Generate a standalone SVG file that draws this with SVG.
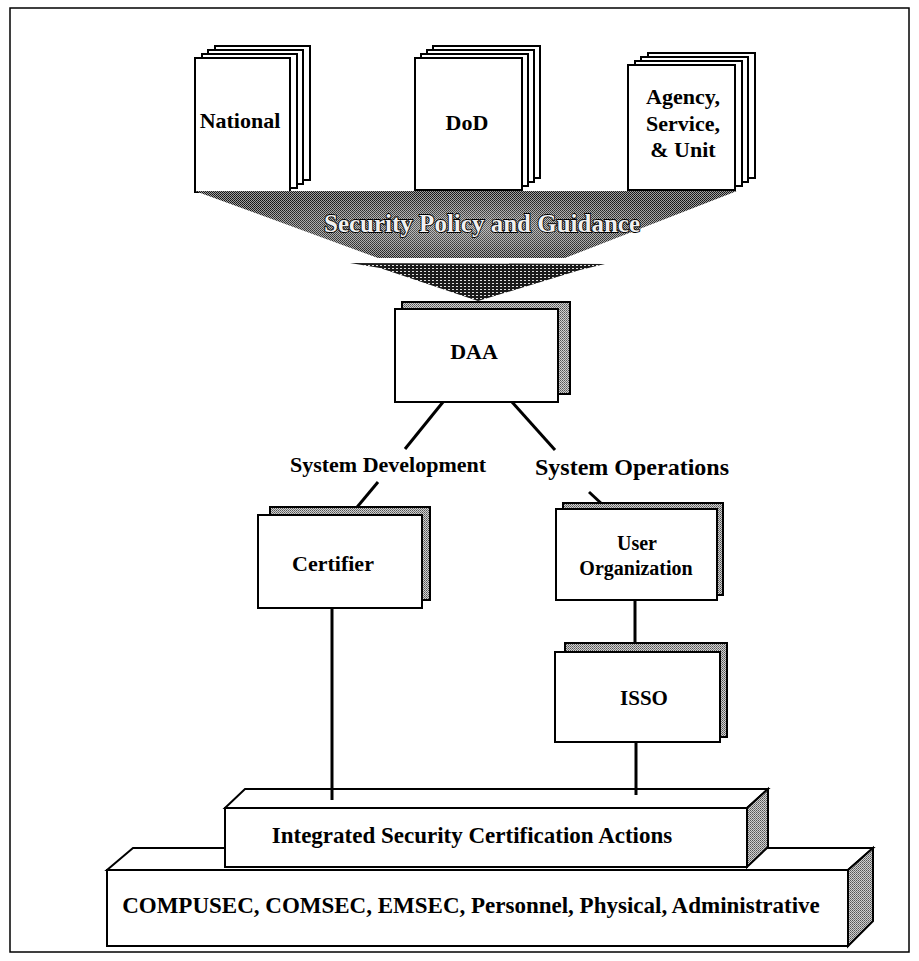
<svg xmlns="http://www.w3.org/2000/svg" width="919" height="961" viewBox="0 0 919 961">
<style>
.t{font-family:"Liberation Serif","Times New Roman",serif;font-weight:bold;fill:#000;text-anchor:middle}
.pg{fill:#fff;stroke:#000;stroke-width:2}
.sh{fill:url(#stip);stroke:#000;stroke-width:2}
.ln{stroke:#000;stroke-width:3;fill:none;stroke-linecap:butt}
</style>
<defs>
<pattern id="stip" width="2" height="2" patternUnits="userSpaceOnUse">
<rect width="2" height="2" fill="#d0d0d0"/>
<rect width="1" height="1" fill="#555"/>
<rect x="1" y="1" width="1" height="1" fill="#777"/>
</pattern>
<pattern id="half" width="2" height="2" patternUnits="userSpaceOnUse">
<rect width="2" height="2" fill="#a0a0a0"/>
<rect width="1" height="1" fill="#111"/>
<rect x="1" y="1" width="1" height="1" fill="#222"/>
</pattern>
<pattern id="stripe" width="4" height="3" patternUnits="userSpaceOnUse">
<rect width="4" height="3" fill="#1a1a1a"/>
<rect x="0" y="1" width="2" height="1" fill="#e0e0e0"/>
</pattern>
<radialGradient id="glow" cx="0.5" cy="0.55" r="0.5">
<stop offset="0" stop-color="#fff" stop-opacity="0.35"/>
<stop offset="1" stop-color="#fff" stop-opacity="0"/>
</radialGradient>
</defs>
<rect width="919" height="961" fill="#fff"/>
<rect x="10" y="8" width="899" height="944" fill="none" stroke="#000" stroke-width="1.5"/>

<g id="book-national">
<rect class="pg" x="215" y="46" width="95" height="134"/>
<rect class="pg" x="208" y="50" width="95" height="134"/>
<rect class="pg" x="202" y="54" width="95" height="134"/>
<rect class="pg" x="195" y="58" width="95" height="134"/>
<text class="t" x="240" y="128" font-size="22">National</text>
</g>
<g id="book-dod">
<rect class="pg" x="433" y="46" width="107" height="132"/>
<rect class="pg" x="427" y="50" width="107" height="132"/>
<rect class="pg" x="421" y="54" width="107" height="132"/>
<rect class="pg" x="415" y="58" width="107" height="132"/>
<text class="t" x="467" y="130" font-size="22">DoD</text>
</g>
<g id="book-agency">
<rect class="pg" x="648" y="53" width="107" height="125"/>
<rect class="pg" x="641" y="57" width="107" height="125"/>
<rect class="pg" x="635" y="61" width="107" height="125"/>
<rect class="pg" x="628" y="65" width="107" height="125"/>
<text class="t" x="683" y="104" font-size="22">Agency,</text>
<text class="t" x="683" y="131" font-size="22">Service,</text>
<text class="t" x="683" y="157" font-size="22">&amp; Unit</text>
</g>

<g id="funnel">
<polygon points="195,191 737,191 565,258 378,258" fill="url(#half)"/>
<polygon points="195,191 737,191 565,258 378,258" fill="url(#glow)"/>
<polygon points="350,263 605,264 580,270 478,301 380,268" fill="url(#stripe)"/>
<text class="t" x="482" y="232" font-size="25" style="fill:#f0f0f0" stroke="#000" stroke-width="1.8" paint-order="stroke">Security Policy and Guidance</text>
</g>

<g id="connectors">
<line class="ln" x1="443" y1="402" x2="405" y2="449"/>
<line class="ln" x1="512" y1="402" x2="555" y2="450"/>
<line class="ln" x1="378" y1="482" x2="353" y2="512"/>
<line class="ln" x1="589" y1="492" x2="603" y2="505"/>
<line class="ln" x1="332" y1="608" x2="332" y2="800"/>
<line class="ln" x1="635" y1="600" x2="635" y2="645"/>
<line class="ln" x1="636" y1="742" x2="636" y2="795"/>
<text class="t" x="388" y="472" font-size="22">System Development</text>
<text class="t" x="632" y="475" font-size="24">System Operations</text>
</g>

<g id="daa">
<rect class="sh" x="402" y="302" width="168" height="92"/>
<rect class="pg" x="395" y="309" width="163" height="93"/>
<text class="t" x="474" y="359" font-size="22">DAA</text>
</g>

<g id="certifier">
<rect class="sh" x="270" y="507" width="160" height="93"/>
<rect class="pg" x="258" y="515" width="164" height="93"/>
<text class="t" x="333" y="571" font-size="22">Certifier</text>
</g>

<g id="user-organization">
<rect class="sh" x="563" y="503" width="160" height="92"/>
<rect class="pg" x="556" y="509" width="161" height="91"/>
<text class="t" x="637" y="550" font-size="20">User</text>
<text class="t" x="636" y="575" font-size="20">Organization</text>
</g>

<g id="isso">
<rect class="sh" x="565" y="643" width="162" height="94"/>
<rect class="pg" x="555" y="652" width="165" height="90"/>
<text class="t" x="644" y="705" font-size="21">ISSO</text>
</g>

<g id="base">
<polygon class="pg" points="107,870 133,848 873,848 848,870"/>
<polygon class="sh" points="848,870 873,848 873,921 848,946"/>
<rect class="pg" x="107" y="870" width="741" height="76"/>
<text class="t" x="471" y="913" font-size="23">COMPUSEC, COMSEC, EMSEC, Personnel, Physical, Administrative</text>
</g>

<g id="integrated">
<polygon class="pg" points="225,808 245,789 768,789 747,808"/>
<polygon class="sh" points="747,808 768,789 768,847 747,867"/>
<rect class="pg" x="225" y="808" width="522" height="59"/>
<text class="t" x="472" y="843" font-size="23">Integrated Security Certification Actions</text>
</g>
<line class="ln" x1="332" y1="789" x2="332" y2="800"/>
<line class="ln" x1="636" y1="789" x2="636" y2="795"/>
</svg>
